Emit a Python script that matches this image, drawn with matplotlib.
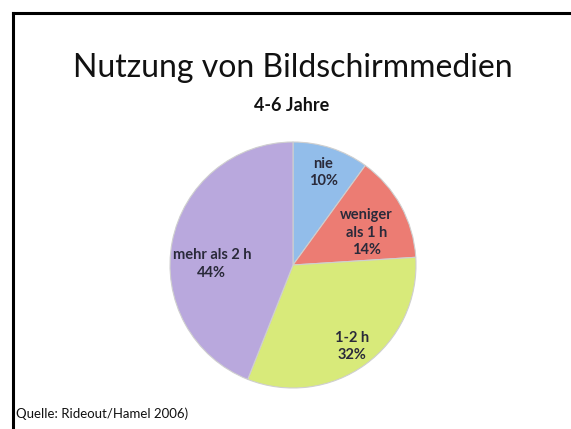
import numpy as np
import matplotlib.pyplot as plt
from matplotlib.lines import Line2D

categories = ["nie", "weniger\nals 1 h", "1-2 h", "mehr als 2 h"]
shares = [10, 14, 32, 44]
colors = ["#92BDEA", "#EC7C73", "#D8EA7A", "#B9A8DD"]
# label placement: fraction of radius and angle tweak (deg)
label_dist = [0.79, 0.65, 0.82, 0.66]
label_rot = [0, -5, 0, 10]

plt.rcParams['font.family'] = ['Lato', 'DejaVu Sans']

fig = plt.figure(figsize=(5.71, 4.29), dpi=100)
fig.patch.set_facecolor("white")

# slide frame (top and left edge only)
fig.add_artist(Line2D([13 / 571, 1], [1 - 13 / 429] * 2, color="black", lw=2.2))
fig.add_artist(Line2D([13 / 571] * 2, [0, 1 - 13 / 429], color="black", lw=2.2))

fig.text(0.513, 1 - 77 / 429, "Nutzung von Bildschirmmedien", ha="center",
         va="baseline", fontsize=23, color="#111111")
fig.text(0.511, 1 - 111 / 429, "4-6 Jahre", ha="center", va="baseline",
         fontsize=13, fontweight="bold", color="#111111")
fig.text(0.028, 11 / 429, "Quelle: Rideout/Hamel 2006)", ha="left",
         va="baseline", fontsize=9.5, color="#111111")

ax = fig.add_axes([170 / 571, 41 / 429, 246 / 571, 246 / 429])
wedges, _ = ax.pie(shares, colors=colors, startangle=90, counterclock=False,
                   wedgeprops=dict(edgecolor="#cfcfcf", linewidth=0.8))
ax.set_xlim(-1, 1)
ax.set_ylim(-1, 1)
ax.set_aspect("equal")

for w, cat, val, d, rot in zip(wedges, categories, shares, label_dist, label_rot):
    mid = np.deg2rad((w.theta1 + w.theta2) / 2 + rot)
    ax.text(d * np.cos(mid), d * np.sin(mid), f"{cat}\n{val}%", ha="center",
            va="center", fontsize=10.5, fontweight="bold", color="#2a2a3a",
            linespacing=1.3)

fig.savefig("out.png", dpi=100)
